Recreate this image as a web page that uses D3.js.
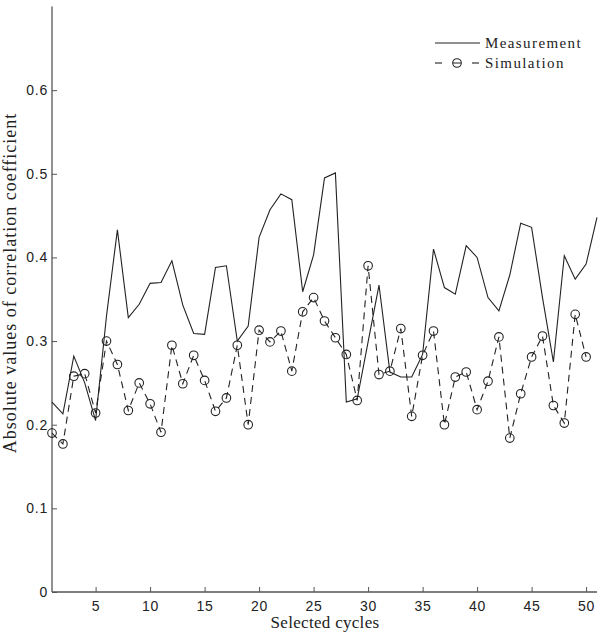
<!DOCTYPE html>
<html>
<head>
<meta charset="utf-8">
<script src="https://cdn.jsdelivr.net/npm/d3@7"></script>
<style>
  html, body { margin: 0; padding: 0; background: #fff; }
  svg { display: block; }
</style>
</head>
<body>
<svg id="chart" width="598" height="632"></svg>
<script>
const measurement = [0.227,0.213,0.282,0.250,0.205,0.330,0.433,0.328,0.344,0.369,
  0.370,0.396,0.343,0.309,0.308,0.388,0.390,0.300,0.318,0.424,
  0.457,0.476,0.469,0.359,0.403,0.495,0.501,0.227,0.231,0.299,
  0.367,0.263,0.257,0.257,0.284,0.410,0.364,0.356,0.414,0.400,
  0.352,0.336,0.379,0.441,0.436,0.352,0.275,0.402,0.374,0.392,0.448];
const simulation = [0.190,0.177,0.258,0.261,0.214,0.300,0.272,0.217,0.250,0.225,
  0.191,0.295,0.249,0.283,0.253,0.216,0.232,0.295,0.200,0.313,
  0.299,0.312,0.264,0.335,0.352,0.324,0.304,0.284,0.229,0.390,
  0.260,0.264,0.315,0.210,0.283,0.312,0.200,0.257,0.263,0.218,
  0.252,0.305,0.184,0.237,0.281,0.306,0.223,0.202,0.332,0.281];
const xTicks = [5,10,15,20,25,30,35,40,45,50];
const yTicks = [0,0.1,0.2,0.3,0.4,0.5,0.6];
const seriesNames = ["Measurement","Simulation"];

const svg = d3.select("#chart");
const x = d3.scaleLinear().domain([1,51]).range([52,597]);
const y = d3.scaleLinear().domain([0,0.7]).range([592,6.5]);
const axisColor = "#555";
const ink = "#222";

// axes
const gx = svg.append("g").attr("transform","translate(0,592)")
  .call(d3.axisBottom(x).tickValues(xTicks).tickSize(-5).tickPadding(9).tickFormat(d3.format("d")));
const gy = svg.append("g").attr("transform","translate(52,0)")
  .call(d3.axisLeft(y).tickValues(yTicks).tickSize(-5).tickPadding(4).tickFormat(d => d === 0 ? "0" : d3.format(".1f")(d)));
[gx, gy].forEach(g => {
  g.select(".domain").attr("stroke", axisColor).attr("stroke-width",1.3);
  g.selectAll(".tick line").attr("stroke", axisColor).attr("stroke-width",1);
  g.selectAll(".tick text").attr("fill","#222")
    .style("font-family","'Liberation Sans', Arial, sans-serif").style("font-size","14px")
    .style("letter-spacing","0.8px");
});
gx.select(".domain").attr("d", "M52,0H597");
gy.select(".domain").attr("d", "M0,592V6.5");

// measurement line
svg.append("path")
  .datum(measurement)
  .attr("fill","none").attr("stroke",ink).attr("stroke-width",1.1)
  .attr("d", d3.line().x((d,i)=>x(i+1)).y(d=>y(d)));

// simulation dashed line
svg.append("path")
  .datum(simulation)
  .attr("fill","none").attr("stroke",ink).attr("stroke-width",1.1)
  .attr("stroke-dasharray","7,5")
  .attr("d", d3.line().x((d,i)=>x(i+1)).y(d=>y(d)));

svg.append("g").selectAll("circle").data(simulation).join("circle")
  .attr("cx",(d,i)=>x(i+1)).attr("cy",d=>y(d)).attr("r",4.3)
  .attr("fill","none").attr("stroke",ink).attr("stroke-width",1.1);

// legend
const lg = svg.append("g");
lg.append("line").attr("x1",435).attr("x2",480).attr("y1",43).attr("y2",43)
  .attr("stroke",ink).attr("stroke-width",1.1);
lg.append("line").attr("x1",435).attr("x2",442).attr("y1",63).attr("y2",63)
  .attr("stroke",ink).attr("stroke-width",1.1);
lg.append("line").attr("x1",472).attr("x2",479).attr("y1",63).attr("y2",63)
  .attr("stroke",ink).attr("stroke-width",1.1);
lg.append("circle").attr("cx",457).attr("cy",63).attr("r",4.3)
  .attr("fill","none").attr("stroke",ink).attr("stroke-width",1.1);
lg.append("line").attr("x1",453).attr("x2",461).attr("y1",63).attr("y2",63)
  .attr("stroke",ink).attr("stroke-width",1);
lg.selectAll("text.leg").data(seriesNames).join("text").attr("class","leg")
  .attr("x",485).attr("y",(d,i)=>48+i*20)
  .attr("fill","#222")
  .style("font-family","'Liberation Serif','Times New Roman',serif")
  .style("font-size","15px").style("letter-spacing","1.4px")
  .text(d=>d);

// axis titles
svg.append("text").attr("x",325).attr("y",628).attr("text-anchor","middle")
  .attr("fill","#222")
  .style("font-family","'Liberation Serif','Times New Roman',serif")
  .style("font-size","17px").style("letter-spacing","0.3px")
  .text("Selected cycles");
svg.append("text").attr("transform","translate(16,283) rotate(-90)").attr("text-anchor","middle")
  .attr("fill","#222")
  .style("font-family","'Liberation Serif','Times New Roman',serif")
  .style("font-size","18px").style("letter-spacing","1px")
  .text("Absolute values of correlation coefficient");
</script>
</body>
</html>
